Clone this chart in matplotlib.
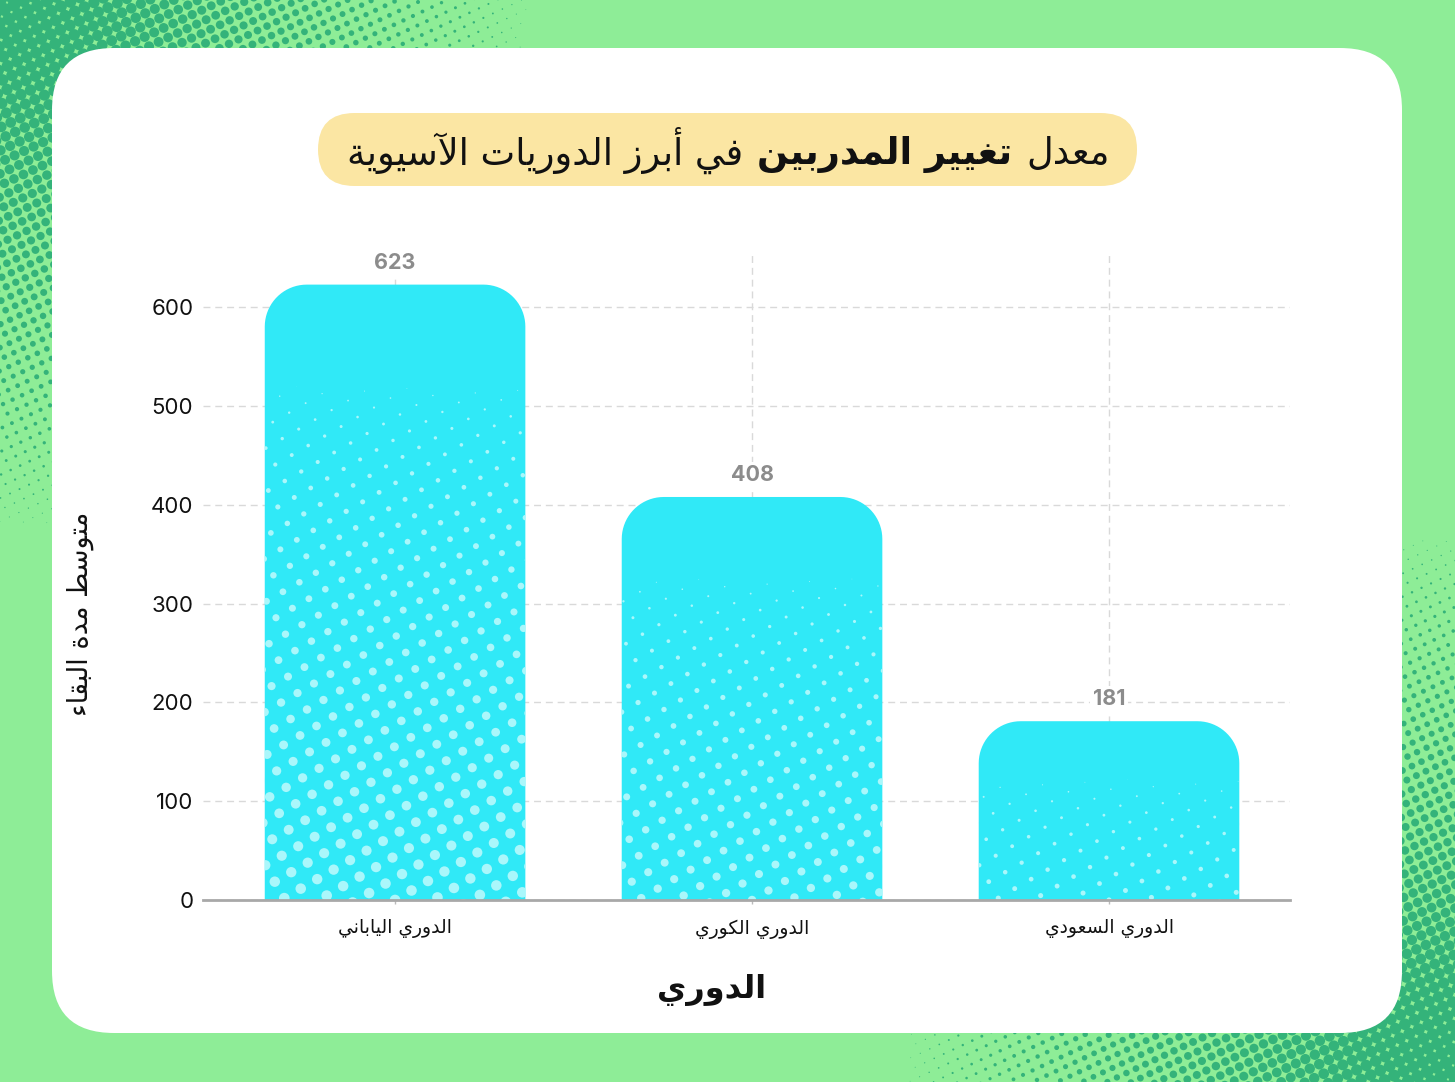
import numpy as np
import matplotlib
matplotlib.use("Agg")
import matplotlib.pyplot as plt
from matplotlib.patches import FancyBboxPatch, Rectangle, PathPatch
from matplotlib.path import Path
from matplotlib.offsetbox import TextArea, HPacker, AnchoredOffsetbox

# ---------------- data ----------------
leagues = ["الدوري الياباني", "الدوري الكوري", "الدوري السعودي"]
avg_stay = [623, 408, 181]
y_ticks = [0, 100, 200, 300, 400, 500, 600]
title_parts = ["معدل", "تغيير المدربين", "في أبرز الدوريات الآسيوية"]  # logical (RTL) order
title_bold = [False, True, False]
x_label = "الدوري"
y_label = "متوسط مدة البقاء"

# ---------------- minimal Arabic shaping ----------------
AR_FORMS = {
    '\u0621': ('\uFE80', None, None, None),
    '\u0622': ('\uFE81', '\uFE82', None, None),
    '\u0623': ('\uFE83', '\uFE84', None, None),
    '\u0627': ('\uFE8D', '\uFE8E', None, None),
    '\u0628': ('\uFE8F', '\uFE90', '\uFE91', '\uFE92'),
    '\u0629': ('\uFE93', '\uFE94', None, None),
    '\u062A': ('\uFE95', '\uFE96', '\uFE97', '\uFE98'),
    '\u062B': ('\uFE99', '\uFE9A', '\uFE9B', '\uFE9C'),
    '\u062C': ('\uFE9D', '\uFE9E', '\uFE9F', '\uFEA0'),
    '\u062D': ('\uFEA1', '\uFEA2', '\uFEA3', '\uFEA4'),
    '\u062E': ('\uFEA5', '\uFEA6', '\uFEA7', '\uFEA8'),
    '\u062F': ('\uFEA9', '\uFEAA', None, None),
    '\u0630': ('\uFEAB', '\uFEAC', None, None),
    '\u0631': ('\uFEAD', '\uFEAE', None, None),
    '\u0632': ('\uFEAF', '\uFEB0', None, None),
    '\u0633': ('\uFEB1', '\uFEB2', '\uFEB3', '\uFEB4'),
    '\u0634': ('\uFEB5', '\uFEB6', '\uFEB7', '\uFEB8'),
    '\u0635': ('\uFEB9', '\uFEBA', '\uFEBB', '\uFEBC'),
    '\u0636': ('\uFEBD', '\uFEBE', '\uFEBF', '\uFEC0'),
    '\u0637': ('\uFEC1', '\uFEC2', '\uFEC3', '\uFEC4'),
    '\u0638': ('\uFEC5', '\uFEC6', '\uFEC7', '\uFEC8'),
    '\u0639': ('\uFEC9', '\uFECA', '\uFECB', '\uFECC'),
    '\u063A': ('\uFECD', '\uFECE', '\uFECF', '\uFED0'),
    '\u0641': ('\uFED1', '\uFED2', '\uFED3', '\uFED4'),
    '\u0642': ('\uFED5', '\uFED6', '\uFED7', '\uFED8'),
    '\u0643': ('\uFED9', '\uFEDA', '\uFEDB', '\uFEDC'),
    '\u0644': ('\uFEDD', '\uFEDE', '\uFEDF', '\uFEE0'),
    '\u0645': ('\uFEE1', '\uFEE2', '\uFEE3', '\uFEE4'),
    '\u0646': ('\uFEE5', '\uFEE6', '\uFEE7', '\uFEE8'),
    '\u0647': ('\uFEE9', '\uFEEA', '\uFEEB', '\uFEEC'),
    '\u0648': ('\uFEED', '\uFEEE', None, None),
    '\u0649': ('\uFEEF', '\uFEF0', None, None),
    '\u064A': ('\uFEF1', '\uFEF2', '\uFEF3', '\uFEF4'),
}
LAM_ALEF = {'\u0622': ('\uFEF5', '\uFEF6'), '\u0623': ('\uFEF7', '\uFEF8'),
            '\u0625': ('\uFEF9', '\uFEFA'), '\u0627': ('\uFEFB', '\uFEFC')}


def shape(text):
    ch = list(text)
    out = []
    i = 0
    while i < len(ch):
        c = ch[i]
        if c not in AR_FORMS:
            out.append(c)
            i += 1
            continue
        prev = ch[i - 1] if i > 0 else None
        link_prev = (prev in AR_FORMS and AR_FORMS[prev][2] is not None
                     and AR_FORMS[c][1] is not None)
        if c == '\u0644' and i + 1 < len(ch) and ch[i + 1] in LAM_ALEF:
            iso, fin = LAM_ALEF[ch[i + 1]]
            out.append(fin if link_prev else iso)
            i += 2
            continue
        nxt = ch[i + 1] if i + 1 < len(ch) else None
        f = AR_FORMS[c]
        link_next = (f[2] is not None and nxt in AR_FORMS and AR_FORMS[nxt][1] is not None)
        if link_prev and link_next:
            g = f[3]
        elif link_prev:
            g = f[1]
        elif link_next:
            g = f[2]
        else:
            g = f[0]
        out.append(g if g is not None else f[0])
        i += 1
    return ''.join(reversed(out))


plt.rcParams['font.family'] = ['Inter', 'DejaVu Sans']

W, H = 1455, 1082
fig = plt.figure(figsize=(W / 100, H / 100), dpi=100)

# ---------------- background ----------------
bg = fig.add_axes([0, 0, 1, 1])
bg.set_xlim(0, W)
bg.set_ylim(0, H)
bg.axis('off')
bg.add_patch(Rectangle((0, 0), W, H, color='#8eed97', zorder=0))


def halftone(cx, cy, R, rmax, spacing=10.5, angle=25):
    a = np.deg2rad(angle)
    n = int(R / spacing) + 4
    u, v = np.meshgrid(np.arange(-n, n + 1), np.arange(-n, n + 1))
    px = (u * np.cos(a) - v * np.sin(a)) * spacing + cx
    py = (u * np.sin(a) + v * np.cos(a)) * spacing + cy
    d = np.hypot(px - cx, py - cy)
    t = np.clip(1 - d / R, 0, 1)
    r = rmax * t ** 0.8
    m = (r > 0.35) & (px >= -10) & (px <= W + 10) & (py >= -10) & (py <= H + 10)
    bg.scatter(px[m], py[m], s=(2 * r[m] * 0.72) ** 2, color='#34b37a',
               linewidths=0, zorder=1)


halftone(0, H, 540, 6.6)
halftone(W, 0, 560, 6.6)

card = FancyBboxPatch((52, H - 1033), 1402 - 52, 1033 - 48,
                      boxstyle="round,pad=0,rounding_size=62",
                      fc='white', ec='none', zorder=2)
bg.add_patch(card)
pill = FancyBboxPatch((318, H - 186), 1137 - 318, 186 - 113,
                      boxstyle="round,pad=0,rounding_size=36.5",
                      fc='#fbe6a3', ec='none', zorder=3)
bg.add_patch(pill)

# ---------------- title (mixed weight, RTL) ----------------
areas = []
for part, b in zip(reversed(title_parts), reversed(title_bold)):
    areas.append(TextArea(shape(part), textprops=dict(
        fontsize=26.5, fontweight='bold' if b else 'normal',
        family='DejaVu Sans', color='#111111')))
hp = HPacker(children=areas, align='baseline', pad=0, sep=10)
tbox = AnchoredOffsetbox(loc='center', child=hp, pad=0, borderpad=0, frameon=False,
                         bbox_to_anchor=(728 / W, (H - 150) / H),
                         bbox_transform=fig.transFigure)
fig.add_artist(tbox)

# ---------------- chart ----------------
ax_l, ax_r, ax_b, ax_t = 203, 1290, 900, 253
ax = fig.add_axes([ax_l / W, (H - ax_b) / H, (ax_r - ax_l) / W, (ax_b - ax_t) / H])
ax.set_facecolor('none')
xmin, xmax = -0.538, 2.507
ymin, ymax = 0, 655
ax.set_xlim(xmin, xmax)
ax.set_ylim(ymin, ymax)
ppx = (ax_r - ax_l) / (xmax - xmin)
ppy = (ax_b - ax_t) / (ymax - ymin)

bar_w = 0.73
rad_px = 42
rx, ry = rad_px / ppx, rad_px / ppy


def bar_path(x0, x1, y0, y1):
    t1 = np.linspace(np.pi, np.pi / 2, 20)
    t2 = np.linspace(np.pi / 2, 0, 20)
    verts = [(x0, y0), (x0, y1 - ry)]
    verts += list(zip(x0 + rx + rx * np.cos(t1), y1 - ry + ry * np.sin(t1)))
    verts += list(zip(x1 - rx + rx * np.cos(t2), y1 - ry + ry * np.sin(t2)))
    verts += [(x1, y0), (x0, y0)]
    codes = [Path.MOVETO] + [Path.LINETO] * (len(verts) - 2) + [Path.CLOSEPOLY]
    return Path(verts, codes)


for i, v in enumerate(avg_stay):
    x0, x1 = i - bar_w / 2, i + bar_w / 2
    patch = PathPatch(bar_path(x0, x1, 0, v), fc='#30e9f7', ec='none', zorder=2)
    ax.add_patch(patch)
    # halftone dots inside bar
    wpx = bar_w * ppx
    hpx = v * ppy
    start = 0.9 * hpx - 40
    sp = 19.0
    a = np.deg2rad(30)
    n = int(max(wpx, hpx) / sp) + 6
    u, w_ = np.meshgrid(np.arange(-n, n + 1), np.arange(-n, n + 1))
    px = (u * np.cos(a) - w_ * np.sin(a)) * sp + wpx / 2
    py = (u * np.sin(a) + w_ * np.cos(a)) * sp
    d = start - py
    m = (px > -8) & (px < wpx + 8) & (py > -8) & (d > 0)
    r = 0.235 * np.sqrt(d[m])
    sc = ax.scatter(x0 + px[m] / ppx, py[m] / ppy, s=(2 * r * 0.72) ** 2,
                    color='#aaf7fb', linewidths=0, zorder=3)
    sc.set_clip_path(patch)
    ax.annotate(str(v), (i, v), xytext=(0, 22 * 0.72), textcoords='offset points',
                ha='center', va='center', fontsize=15.5, fontweight='bold',
                color='#8c8c8c', zorder=5,
                bbox=dict(boxstyle='square,pad=0.15', fc='white', ec='none'))

ax.set_axisbelow(True)
ax.set_xticks(range(len(leagues)))
ax.set_xticklabels([shape(s) for s in leagues], fontsize=13.5, family='DejaVu Sans',
                   color='#111111')
ax.set_yticks(y_ticks)
ax.set_yticklabels([str(t) for t in y_ticks], fontsize=16, color='#111111')
ax.tick_params(axis='y', length=0, pad=7)
ax.tick_params(axis='x', length=3, width=1, color='#bbbbbb', pad=11)
ax.grid(True, linestyle=(0, (5, 3.5)), color='#d9d9d9', linewidth=1)
for s in ['left', 'right', 'top']:
    ax.spines[s].set_visible(False)
ax.spines['bottom'].set_color('#a8a8a8')
ax.spines['bottom'].set_linewidth(2)
ax.spines['bottom'].set_zorder(4)

fig.text(712 / W, (H - 990) / H, shape(x_label), fontsize=23, fontweight='bold',
         family='DejaVu Sans', ha='center', va='center', color='#111111')
fig.text(80 / W, (H - 614) / H, shape(y_label), fontsize=19.5, rotation=90,
         family='DejaVu Sans', ha='center', va='center', color='#111111')

fig.savefig('out.png', dpi=100)
